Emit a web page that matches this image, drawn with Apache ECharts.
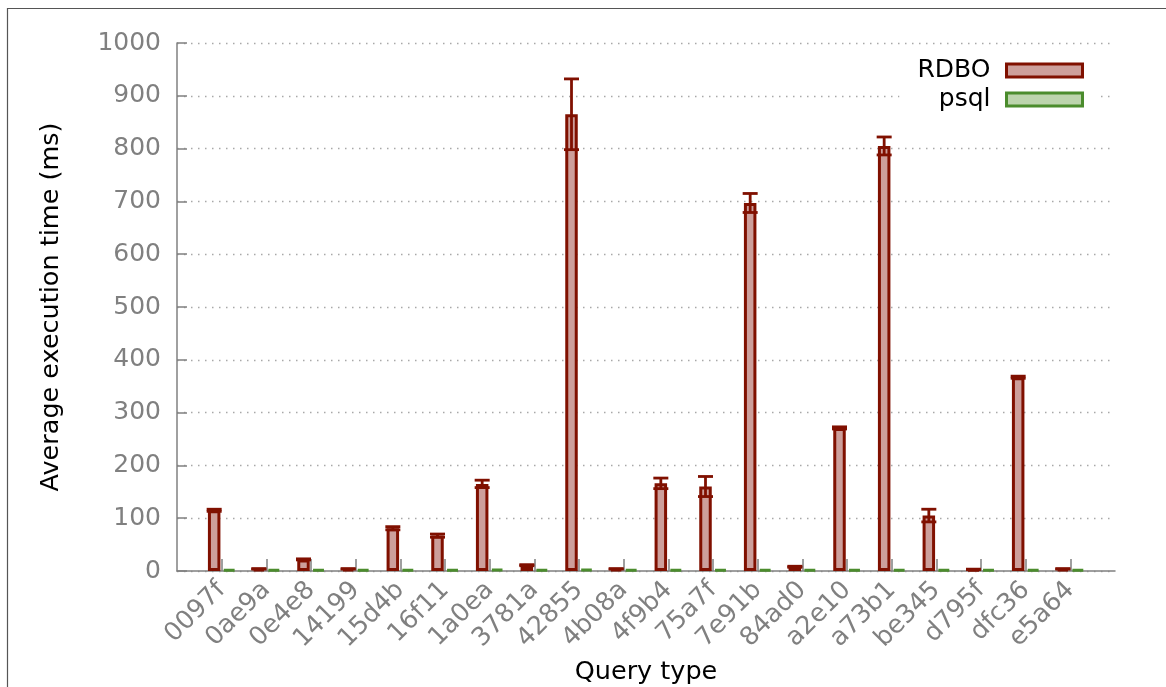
<!DOCTYPE html>
<html>
<head>
<meta charset="utf-8">
<script src="https://cdn.jsdelivr.net/npm/echarts@6/dist/echarts.min.js"></script>
<style>
html,body{margin:0;padding:0;background:#fff;}
#chart{width:1166px;height:687px;}
</style>
</head>
<body>
<div id="chart"></div>
<script>
const categories = ['0097f','0ae9a','0e4e8','14199','15d4b','16f11','1a0ea','3781a','42855','4b08a','4f9b4','75a7f','7e91b','84ad0','a2e10','a73b1','be345','d795f','dfc36','e5a64'];
const rdboValues = [115, 4, 22, 4, 81, 67, 165, 11, 865, 4, 166, 160, 697, 8, 271, 805, 105, 3, 367, 4];
const rdboErrors = [2, 0.5, 1, 0.5, 3, 3, 7, 1, 67, 0.5, 10, 19, 18, 1, 2, 17, 12, 0.5, 2, 0.5];
const psqlValues = [3, 3, 3, 3, 3, 3, 3.5, 3, 3.5, 3, 3, 3, 3, 3, 3, 3, 3, 3, 3, 3];
const yTicks = [0, 100, 200, 300, 400, 500, 600, 700, 800, 900, 1000];

const RED = '#801000', RED_FILL = '#cd9f9b';
const GREEN = '#4b8c2d', GREEN_FILL = '#bcd4ad';
const GREY = '#808080';

const axisCats = [' '].concat(categories).concat(['  ']);

const chart = echarts.init(document.getElementById('chart'));
chart.setOption({
  animation: false,
  backgroundColor: '#fff',
  textStyle: { fontFamily: 'DejaVu Sans' },
  grid: { left: 177, right: 51, top: 43, bottom: 116, containLabel: false, outerBoundsMode: 'none' },
  legend: {
    orient: 'vertical',
    right: 69,
    top: 51,
    align: 'right',
    icon: 'rect',
    itemWidth: 76,
    itemHeight: 13,
    itemGap: 0,
    padding: [5, 13, 5, 18],
    backgroundColor: '#fff',
    data: ['RDBO', 'psql'],
    itemStyle: { borderWidth: 3 },
    textStyle: { fontSize: 25, color: '#000', lineHeight: 29, padding: [0, 11, 0, 0], fontFamily: 'DejaVu Sans' }
  },
  xAxis: {
    type: 'category',
    data: axisCats,
    boundaryGap: false,
    name: 'Query type',
    nameLocation: 'middle',
    nameGap: 86,
    nameTextStyle: { fontSize: 25.5, color: '#000' },
    axisLine: { lineStyle: { color: GREY, width: 1.5 } },
    axisTick: {
      inside: true, length: 12,
      lineStyle: { color: GREY, width: 1.5 },
      interval: function (i, v) { return v.trim() !== ''; }
    },
    axisLabel: {
      rotate: 45, fontSize: 25.5, color: GREY, margin: 15, interval: 0
    },
    splitLine: { show: false }
  },
  yAxis: {
    type: 'value',
    min: 0, max: 1000, interval: 100,
    name: 'Average execution time (ms)',
    nameLocation: 'middle',
    nameGap: 113,
    nameTextStyle: { fontSize: 25.5, color: '#000' },
    axisLine: { show: true, lineStyle: { color: GREY, width: 1.5 } },
    axisTick: { show: true, inside: true, length: 10, lineStyle: { color: GREY, width: 1.5 } },
    axisLabel: {
      fontSize: 25, color: GREY, margin: 16,
      formatter: function (v) { return yTicks.indexOf(v) >= 0 ? String(v) : ''; }
    },
    splitLine: { show: true, lineStyle: { color: '#a8a8a8', width: 1.3, type: [1.5, 5.5] } }
  },
  series: [
    {
      name: 'RDBO', type: 'bar', barWidth: 12.5, barGap: '20%',
      itemStyle: { color: RED_FILL, borderColor: RED, borderWidth: 3 },
      data: categories.map((c, i) => [c, rdboValues[i]])
    },
    {
      name: 'psql', type: 'bar', barWidth: 12.5,
      itemStyle: { color: GREEN_FILL, borderColor: GREEN, borderWidth: 3 },
      data: categories.map((c, i) => [c, psqlValues[i]])
    },
    {
      name: 'RDBO error', type: 'custom', z: 5,
      dimensions: ['cat', 'val', 'err'],
      encode: { x: 'cat', y: 'val' },
      data: categories.map((c, i) => [c, rdboValues[i], rdboErrors[i]]),
      renderItem: function (params, api) {
        const x = api.value(0), v = api.value(1), e = api.value(2);
        const top = api.coord([x, v + e]);
        const bot = api.coord([x, Math.max(0, v - e)]);
        const cx = top[0] - 7.5;
        const st = { stroke: RED, lineWidth: 2.8 };
        return {
          type: 'group',
          children: [
            { type: 'line', shape: { x1: cx, y1: top[1], x2: cx, y2: bot[1] }, style: st },
            { type: 'line', shape: { x1: cx - 7.5, y1: top[1], x2: cx + 7.5, y2: top[1] }, style: st },
            { type: 'line', shape: { x1: cx - 7.5, y1: bot[1], x2: cx + 7.5, y2: bot[1] }, style: st }
          ]
        };
      }
    }
  ],
  graphic: [
    { type: 'line', shape: { x1: 7.5, y1: 8, x2: 7.5, y2: 687 }, style: { stroke: '#555', lineWidth: 1.2 } },
    { type: 'line', shape: { x1: 7, y1: 8.5, x2: 1166, y2: 8.5 }, style: { stroke: '#555', lineWidth: 1.2 } }
  ]
});
</script>
</body>
</html>
